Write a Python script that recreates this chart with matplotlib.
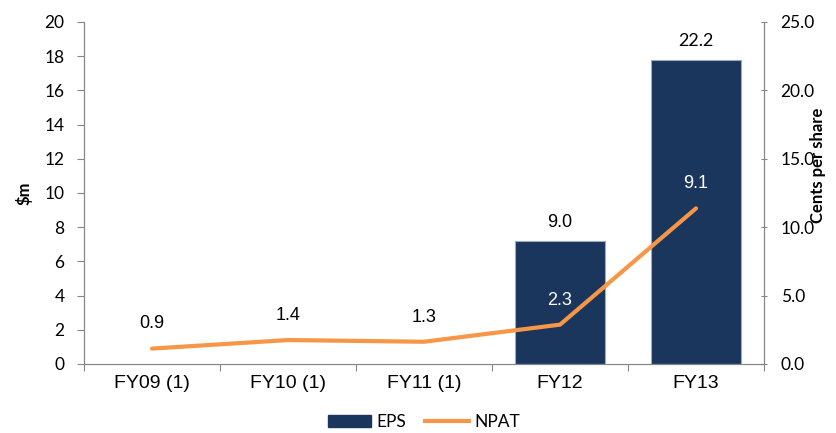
import matplotlib.pyplot as plt
from matplotlib.patches import Patch
from matplotlib.lines import Line2D

years = ['FY09 (1)', 'FY10 (1)', 'FY11 (1)', 'FY12', 'FY13']
eps = [None, None, None, 9.0, 22.2]   # cents per share
npat = [0.9, 1.4, 1.3, 2.3, 9.1]      # $m

bar_color = '#1b365d'
line_color = '#f79646'
axis_grey = '#868686'

fig = plt.figure(figsize=(8.36, 4.33), dpi=100)
ax = fig.add_axes([0.1005, 0.1594, 0.8134, 0.7898])
ax2 = ax.twinx()

x = list(range(len(years)))

# EPS bars go on the right-hand axis
bx = [i for i, v in zip(x, eps) if v is not None]
bv = [v for v in eps if v is not None]
ax2.bar(bx, bv, width=0.66, color=bar_color, edgecolor='#9aaabf', linewidth=0.8)
for i, v in zip(bx, bv):
    fam = 'Lato' if v > 20 else 'Liberation Sans'
    ax2.annotate(f'{v:.1f}', (i, v), xytext=(0, 10), textcoords='offset points',
                 ha='center', va='baseline', fontsize=13, family=fam,
                 color='black')

# NPAT line on the left-hand axis, kept above the bars
ax.set_zorder(ax2.get_zorder() + 1)
ax.patch.set_visible(False)
ax.plot(x, npat, color=line_color, linewidth=3, solid_capstyle='round')
for i, v in zip(x, npat):
    on_bar = eps[i] is not None
    ax.annotate(f'{v:.1f}', (i, v), xytext=(0, 14.5), textcoords='offset points',
                ha='center', va='baseline', fontsize=13, family='Liberation Sans',
                color='white' if on_bar else 'black')

ax.set_xlim(-0.5, len(years) - 0.5)
ax.set_ylim(0, 20)
ax2.set_ylim(0, 25)
ax.set_yticks(range(0, 21, 2))
ax2.set_yticks([0, 5, 10, 15, 20, 25])
ax2.set_yticklabels([f'{t:.1f}' for t in [0, 5, 10, 15, 20, 25]])

# category labels centred, tick marks at the boundaries
ax.set_xticks([i - 0.5 for i in range(len(years) + 1)])
ax.set_xticklabels([])
ax.set_xticks(x, minor=True)
ax.set_xticklabels(years, minor=True, fontsize=14, family='Liberation Sans')
ax.tick_params(axis='x', which='minor', length=0, pad=8)
ax.tick_params(axis='x', which='major', length=5, color=axis_grey)

for a in (ax, ax2):
    for s in a.spines.values():
        s.set_color(axis_grey)
    a.spines['top'].set_visible(False)
ax.tick_params(axis='y', length=5, color=axis_grey, labelsize=12.5, pad=9)
ax2.tick_params(axis='y', length=4, color=axis_grey, labelsize=12.5, pad=10,
                direction='inout')
for lbl in ax.get_yticklabels() + ax2.get_yticklabels():
    lbl.set_family('Lato')

ax.set_ylabel('$m', fontsize=12, fontweight='bold', family='Lato')
ax.yaxis.set_label_coords(-0.076, 0.5)
ax2.set_ylabel('Cents per share', fontsize=12, fontweight='bold', family='Lato')
ax2.yaxis.set_label_coords(1.067, 0.58)

handles = [Patch(facecolor=bar_color, edgecolor=bar_color),
           Line2D([], [], color=line_color, linewidth=3)]
fig.legend(handles, ['EPS', 'NPAT'], loc='center', bbox_to_anchor=(0.507, 0.026),
           ncol=2, frameon=False, handlelength=2.5, handleheight=0.7,
           handletextpad=0.3, columnspacing=1.1,
           prop={'family': 'Lato', 'size': 12.5})

fig.savefig('out.png', dpi=100)
